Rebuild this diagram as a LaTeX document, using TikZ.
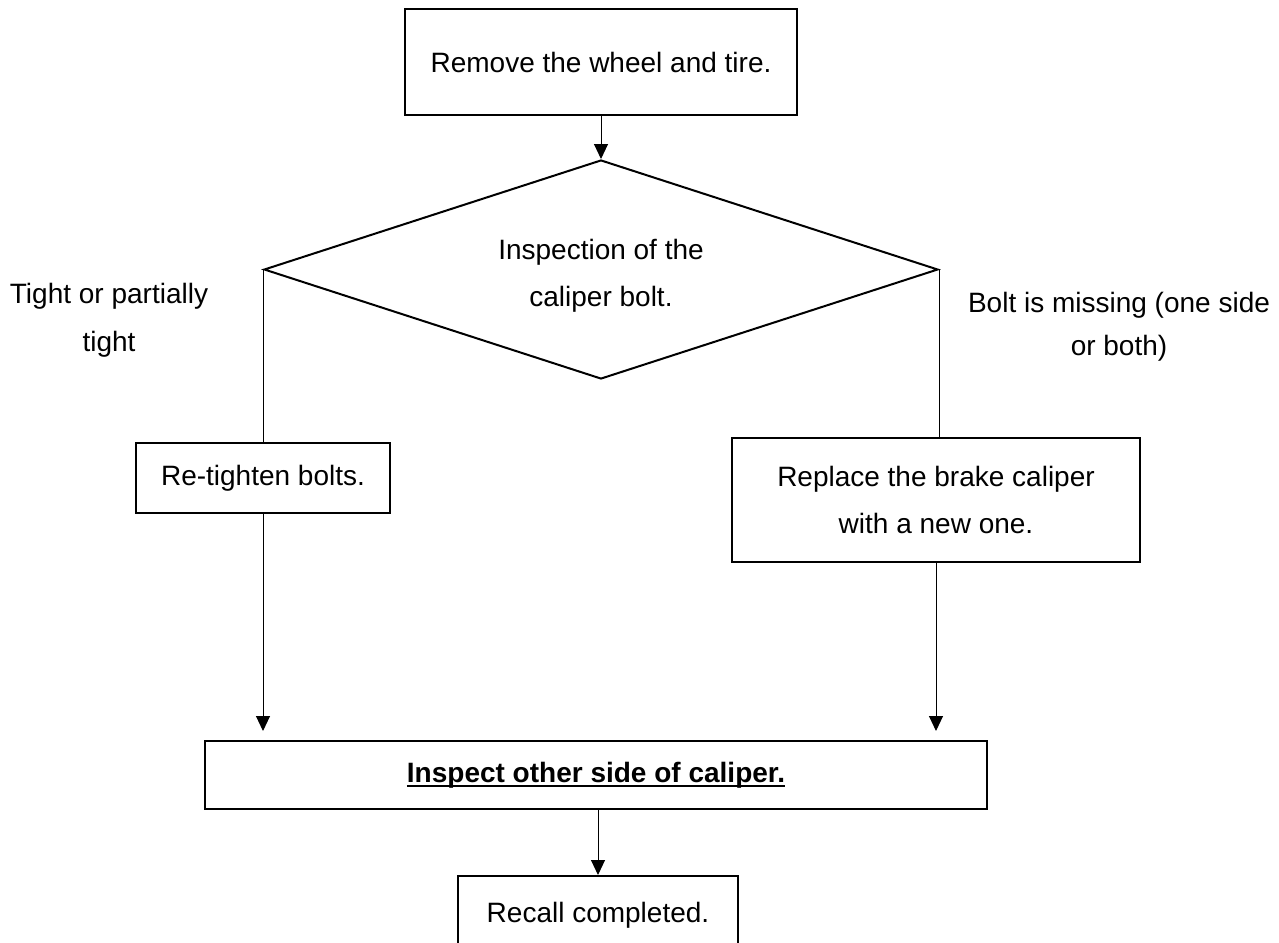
\documentclass[tikz,border=0pt]{standalone}
\usepackage{fontspec}
\setmainfont{Liberation Sans}
\usetikzlibrary{shapes.geometric,arrows.meta}
\newcommand\myul[1]{\setbox0\hbox{#1}\rlap{\rule[-4.6pt]{\wd0}{2.3pt}}\box0}
\begin{document}
\begin{tikzpicture}[x=1pt,y=-1pt,
  every node/.style={font=\fontsize{28}{47}\selectfont, inner sep=0pt},
  stepbox/.style={draw, line width=2pt, rectangle, align=center},
  decision/.style={draw, line width=2pt, diamond, minimum width=674pt, minimum height=219pt},
  conn/.style={line width=1pt},
  arr/.style={conn, -{Triangle[length=15pt,width=14pt]}},
  lbl/.style={align=center}]
\useasboundingbox (0,0) rectangle (1279,942);
\node[stepbox, minimum width=392pt, minimum height=106pt] (box1) at (601,62) {Remove the wheel and tire.};
\node[decision] (dia) at (601,269.5) {};
\node[lbl] (diatext) at (601,275.5) {Inspection of the\\caliper bolt.};
\node[stepbox, minimum width=254pt, minimum height=70pt] (box2) at (263,478) {Re-tighten bolts.};
\node[stepbox, minimum width=408pt, minimum height=124pt] (box4) at (936,500) {Replace the brake caliper\\with a new one.};
\node[stepbox, minimum width=782pt, minimum height=68pt] (box3) at (596,775) {\myul{\textbf{Inspect other side of caliper.}}};
\node[stepbox, minimum width=280pt, minimum height=78pt] (box5) at (598,915) {Recall completed.};
\node[lbl, font=\fontsize{28}{48}\selectfont] (lblL) at (109,320) {Tight or partially\\tight};
\node[lbl, font=\fontsize{28}{43}\selectfont] (lblR) at (1119,327) {Bolt is missing (one side\\or both)};
\draw[arr] (box1.south) -- (dia.north);
\draw[conn] (dia.west) -- (dia.west |- box2.north);
\draw[conn] (dia.east) -- (dia.east |- box4.north);
\draw[arr, shorten >=9pt] (box2.south) -- (box2.south |- box3.north);
\draw[arr, shorten >=9pt] (box4.south) -- (box4.south |- box3.north);
\draw[arr] (box5.north |- box3.south) -- (box5.north);
\end{tikzpicture}
\end{document}
